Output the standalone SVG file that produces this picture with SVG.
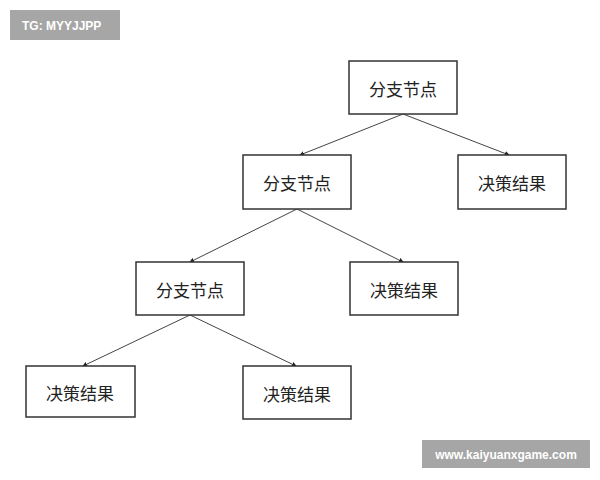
<svg xmlns="http://www.w3.org/2000/svg" width="600" height="480" viewBox="0 0 600 480">
<style>
.box{fill:#fff;stroke:#333;stroke-width:1.5}
.t{font-family:"Noto Sans CJK SC",sans-serif;font-size:17px;fill:#222;text-anchor:middle;dominant-baseline:central}
.e{stroke:#444;stroke-width:1;fill:none;marker-end:url(#a)}
.wm{font-family:"Liberation Sans",sans-serif;font-size:12px;fill:#fff;font-weight:bold}
</style>
<defs><marker id="a" viewBox="0 0 6 6" refX="5" refY="3" markerWidth="5" markerHeight="5" orient="auto"><path d="M0,0 L6,3 L0,6 z" fill="#222"/></marker></defs>
<rect width="600" height="480" fill="#fff"/>
<g id="connectors">
<path class="e" d="M403,114 L300,155"/>
<path class="e" d="M403,114 L509,155"/>
<path class="e" d="M297,209 L190,262"/>
<path class="e" d="M297,209 L403,262"/>
<path class="e" d="M190,315 L83,366"/>
<path class="e" d="M190,315 L296,366"/>
</g>
<g id="n1"><rect class="box" x="349" y="61" width="108" height="53"/><text class="t" x="403" y="88">分支节点</text></g>
<g id="n2"><rect class="box" x="243" y="155" width="108" height="54"/><text class="t" x="297" y="182">分支节点</text></g>
<g id="r1"><rect class="box" x="458" y="155" width="108" height="54"/><text class="t" x="512" y="182">决策结果</text></g>
<g id="n3"><rect class="box" x="136" y="262" width="108" height="53"/><text class="t" x="190" y="289">分支节点</text></g>
<g id="r2"><rect class="box" x="350" y="262" width="108" height="53"/><text class="t" x="404" y="289">决策结果</text></g>
<g id="r3"><rect class="box" x="26" y="366" width="109" height="51"/><text class="t" x="80" y="392">决策结果</text></g>
<g id="r4"><rect class="box" x="243" y="366" width="108" height="53"/><text class="t" x="297" y="393">决策结果</text></g>
<rect x="10" y="10" width="110" height="30" fill="#a6a6a6"/>
<text class="wm" x="22" y="30">TG: MYYJJPP</text>
<rect x="422" y="440" width="168" height="28" fill="#a6a6a6"/>
<text class="wm" x="506" y="459" text-anchor="middle">www.kaiyuanxgame.com</text>
</svg>
